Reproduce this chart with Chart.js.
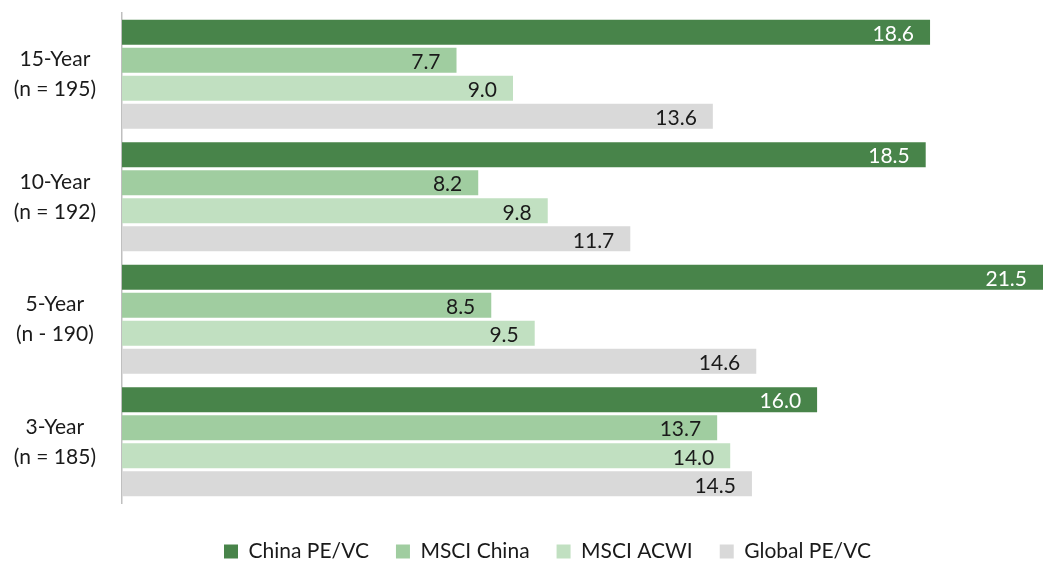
<!DOCTYPE html>
<html>
<head>
<meta charset="utf-8">
<script src="https://cdn.jsdelivr.net/npm/chart.js@4/dist/chart.umd.min.js"></script>
<style>
  html, body { margin: 0; padding: 0; background: #fff; }
  #wrap { width: 1044px; height: 561px; position: relative; }
</style>
</head>
<body>
<div id="wrap"><canvas id="returnsChart"></canvas></div>
<script>
var categories = [
    ['15-Year', '(n = 195)'],
    ['10-Year', '(n = 192)'],
    ['5-Year', '(n - 190)'],
    ['3-Year', '(n = 185)']
];
var seriesNames = ['China PE/VC', 'MSCI China', 'MSCI ACWI', 'Global PE/VC'];
var chinaPeVc  = [18.6, 18.5, 21.5, 16.0];
var msciChina  = [7.7, 8.2, 8.5, 13.7];
var msciAcwi   = [9.0, 9.8, 9.5, 14.0];
var globalPeVc = [13.6, 11.7, 14.6, 14.5];

var colors = ['#48844a', '#a0cda0', '#c1e0c1', '#d9d9d9'];
var labelColors = ['#ffffff', '#1a1a1a', '#1a1a1a', '#1a1a1a'];
var FONT = 'Lato';

// value labels at the inside end of each bar (clipped bars use the chart edge)
var valueLabels = {
    id: 'valueLabels',
    afterLayout: function (chart) {
        // legend sits a bit right of centre in the original
        chart.legend.left += 26;
        chart.legend.right += 26;
    },
    afterDatasetsDraw: function (chart) {
        var ctx = chart.ctx;
        var area = chart.chartArea;
        ctx.save();
        ctx.font = '21px ' + FONT;
        ctx.textAlign = 'right';
        ctx.textBaseline = 'middle';
        chart.data.datasets.forEach(function (ds, i) {
            chart.getDatasetMeta(i).data.forEach(function (bar, j) {
                var x = Math.min(bar.x, area.right);
                ctx.fillStyle = labelColors[i];
                ctx.fillText(ds.data[j].toFixed(1), x - 16, bar.y + 2);
            });
        });
        ctx.restore();
    }
};

var series = [chinaPeVc, msciChina, msciAcwi, globalPeVc];

new Chart(document.getElementById('returnsChart').getContext('2d'), {
    type: 'bar',
    data: {
        labels: categories,
        datasets: series.map(function (vals, i) {
            return {
                label: seriesNames[i],
                data: vals,
                backgroundColor: colors[i],
                borderWidth: 0,
                barPercentage: 0.89,
                categoryPercentage: 0.916
            };
        })
    },
    options: {
        indexAxis: 'y',
        responsive: true,
        maintainAspectRatio: false,
        animation: false,
        layout: { padding: { top: 13, right: 1, left: 0, bottom: -11 } },
        plugins: {
            legend: {
                position: 'bottom',
                labels: {
                    boxWidth: 14,
                    boxHeight: 14,
                    padding: 27,
                    color: '#1a1a1a',
                    font: { family: FONT, size: 21 }
                }
            },
            tooltip: { enabled: false }
        },
        scales: {
            x: {
                display: true,
                min: 0,
                max: 21.2,
                grid: { display: false },
                border: { display: false },
                ticks: { display: false },
                afterFit: function (scale) { scale.height = 11; }
            },
            y: {
                grid: { display: false },
                border: { color: '#bfbfbf', width: 1.5 },
                ticks: {
                    color: '#1a1a1a',
                    font: { family: FONT, size: 21, lineHeight: 1.43 },
                    crossAlign: 'center',
                    padding: 18
                },
                afterFit: function (scale) {
                    scale.width = 122;
                    scale.paddingTop = 0;
                    scale.paddingBottom = 0;
                }
            }
        }
    },
    plugins: [valueLabels]
});
</script>
</body>
</html>
